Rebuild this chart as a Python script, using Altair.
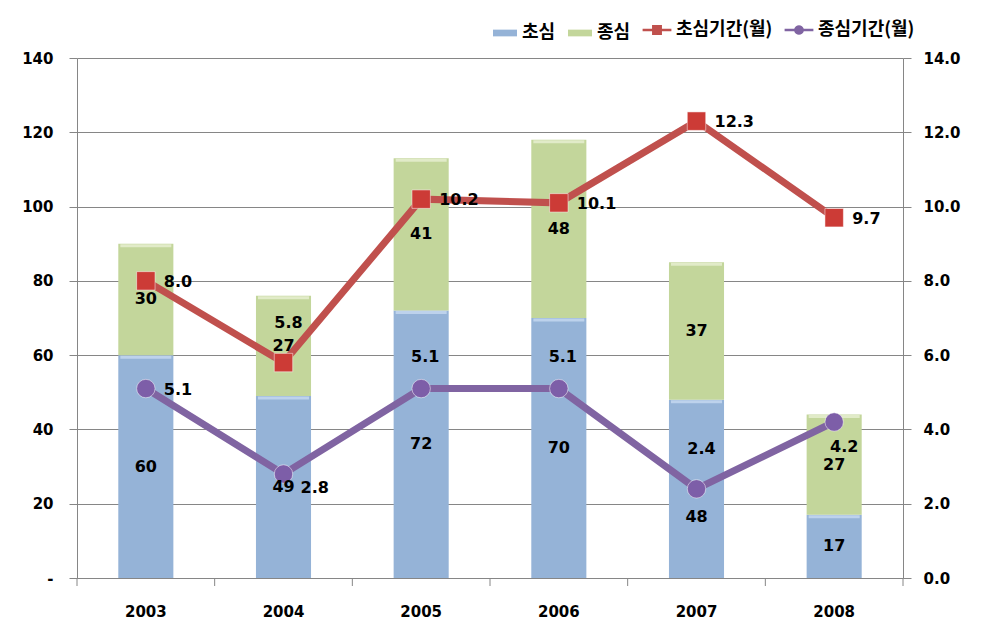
import altair as alt
import pandas as pd

# ---- data ----
years = ["2003", "2004", "2005", "2006", "2007", "2008"]
first_cases = [60, 49, 72, 70, 48, 17]        # 초심
final_cases = [30, 27, 41, 48, 37, 27]        # 종심
first_months = [8.0, 5.8, 10.2, 10.1, 12.3, 9.7]   # 초심기간(월)
final_months = [5.1, 2.8, 5.1, 5.1, 2.4, 4.2]      # 종심기간(월)

bar_series = ["초심", "종심"]
line_series = ["초심기간(월)", "종심기간(월)"]

# label placement names (style only)
first_case_place = ["mid", "mid", "mid", "mid", "low", "mid"]
final_case_place = ["mid", "mid", "mid", "mid", "mid", "mid"]
first_month_place = ["right", "upper-high", "right", "right", "right", "right"]
final_month_place = ["right", "lower-right", "upper", "upper", "upper-high", "lower"]

# ---- tables built from the lists ----
bar_rows = []
for i, y in enumerate(years):
    a, b = first_cases[i], final_cases[i]
    bar_rows.append(dict(year=y, series=bar_series[0], start=0, end=a, mid=a / 2, value=a, place=first_case_place[i]))
    bar_rows.append(dict(year=y, series=bar_series[1], start=a, end=a + b, mid=a + b / 2, value=b, place=final_case_place[i]))
bars_df = pd.DataFrame(bar_rows)

line_rows = []
for i, y in enumerate(years):
    line_rows.append(dict(year=y, series=line_series[0], value=first_months[i], place=first_month_place[i], lbl=f"{first_months[i]:.1f}"))
for i, y in enumerate(years):
    line_rows.append(dict(year=y, series=line_series[1], value=final_months[i], place=final_month_place[i], lbl=f"{final_months[i]:.1f}"))
lines_df = pd.DataFrame(line_rows)

year_df = pd.DataFrame({"year": years})

BLUE = "#95b3d7"
GREEN = "#c3d69b"
BLUE_TOP = "#cfe0f5"
GREEN_TOP = "#eef3dc"
RED = "#c0504d"
PURPLE = "#8064a2"
GRID = "#868686"
NUM_FONT = "DejaVu Sans"
KR_FONT = "Noto Sans CJK KR"

PLOT_W, PLOT_H = 826, 520
STEP = PLOT_W / len(years)

x_enc = alt.X("year:N", sort=years,
              scale=alt.Scale(type="band", paddingInner=0.6, paddingOuter=0.3),
              axis=alt.Axis(title=None, ticks=False, domainColor=GRID,
                            labelFont=NUM_FONT, labelFontWeight="bold",
                            labelFontSize=15, labelColor="black", labelPadding=26,
                            labelAngle=0, grid=False))

left_scale = alt.Scale(domain=[0, 140], nice=False, zero=True)
right_scale = alt.Scale(domain=[0, 14], nice=False, zero=True)

legend_common = dict(title=None, orient="none", direction="horizontal",
                     symbolStrokeWidth=0, labelFont=KR_FONT, labelFontWeight="bold",
                     labelFontSize=18, labelColor="black", padding=0, legendY=-37)

bar_color = alt.Color("series:N", sort=bar_series,
                      scale=alt.Scale(domain=bar_series, range=[BLUE, GREEN]),
                      legend=alt.Legend(legendX=416, symbolType="M-1,-0.28H1V0.28H-1Z",
                                        symbolSize=576, labelOffset=5, columnPadding=12,
                                        **legend_common))

bars = alt.Chart(bars_df).mark_bar().encode(
    x=x_enc,
    y=alt.Y("end:Q", scale=left_scale,
            axis=alt.Axis(title=None, values=list(range(0, 141, 20)),
                          labelExpr="datum.value == 0 ? '-' : datum.label",
                          grid=True, gridColor=GRID, gridWidth=1, domainColor=GRID,
                          tickColor=GRID, tickSize=8, labelPadding=16,
                          labelFont=NUM_FONT, labelFontWeight="bold", labelFontSize=15,
                          labelColor="black")),
    y2="start:Q",
    color=bar_color,
    order=alt.Order("start:Q"),
)

# category-boundary tick marks below the x axis
cat_ticks_left = alt.Chart(year_df).mark_rule(color=GRID, strokeWidth=1, xOffset=-STEP / 2).encode(
    x=x_enc, y=alt.value(PLOT_H), y2=alt.value(PLOT_H + 8))
cat_ticks_right = alt.Chart(year_df).transform_filter(
    alt.datum.year == years[-1]
).mark_rule(color=GRID, strokeWidth=1, xOffset=STEP / 2).encode(
    x=x_enc, y=alt.value(PLOT_H), y2=alt.value(PLOT_H + 8))

# light bevel along the top edge of every segment
bevel = alt.Chart(bars_df).mark_tick(thickness=3, size=51, yOffset=2).encode(
    x=x_enc,
    y=alt.Y("end:Q", scale=left_scale, axis=None),
    color=alt.Color("series:N", sort=bar_series,
                    scale=alt.Scale(domain=bar_series, range=[BLUE_TOP, GREEN_TOP]),
                    legend=None),
)

line_color = alt.Color("series:N", sort=line_series,
                       scale=alt.Scale(domain=line_series, range=[RED, PURPLE]), legend=None)

lines = alt.Chart(lines_df).mark_line(strokeWidth=7).encode(
    x=x_enc,
    y=alt.Y("value:Q", scale=right_scale,
            axis=alt.Axis(title=None, orient="right", values=list(range(0, 15, 2)),
                          format=".1f", grid=False, domainColor=GRID, tickColor=GRID,
                          tickSize=8, labelPadding=12, labelFont=NUM_FONT,
                          labelFontWeight="bold", labelFontSize=15, labelColor="black")),
    color=line_color,
    detail="series:N",
)

# legend carrier for the line series (line + marker symbols)
legend_paths = [
    "M-1.6,-0.13H-0.55V-0.55H0.55V-0.13H1.6V0.13H0.55V0.55H-0.55V0.13H-1.6Z",
    "M-1.6,-0.13H-0.53A0.55,0.55 0 0 1 0.53,-0.13H1.6V0.13H0.53A0.55,0.55 0 0 1 -0.53,0.13H-1.6Z",
]
line_legend = alt.Legend(legendX=571, symbolSize=324, symbolOpacity=1, labelOffset=10,
                         columnPadding=11, **legend_common)
carrier = alt.Chart(lines_df).mark_point(filled=True, opacity=0, size=1).encode(
    x=x_enc,
    y=alt.Y("value:Q", scale=right_scale, axis=None),
    color=alt.Color("series:N", sort=line_series,
                    scale=alt.Scale(domain=line_series, range=[RED, PURPLE]),
                    legend=line_legend),
    shape=alt.Shape("series:N", sort=line_series,
                    scale=alt.Scale(domain=line_series, range=legend_paths),
                    legend=line_legend),
)

points = alt.Chart(lines_df).mark_point(filled=True, size=340, opacity=1,
                                         stroke="white", strokeWidth=0.5).encode(
    x=x_enc,
    y=alt.Y("value:Q", scale=right_scale, axis=None),
    color=alt.Color("series:N", sort=line_series,
                    scale=alt.Scale(domain=line_series, range=["#cc3b36", "#7d5ea8"]),
                    legend=None),
    shape=alt.Shape("series:N", sort=line_series,
                    scale=alt.Scale(domain=line_series, range=["square", "circle"]),
                    legend=None),
)

text_style = dict(font=NUM_FONT, fontWeight="bold", fontSize=16, color="black", baseline="middle")

bar_places = {"mid": 0, "low": 28}
bar_label_layers = []
for name, dy in bar_places.items():
    bar_label_layers.append(
        alt.Chart(bars_df).transform_filter(alt.datum.place == name)
        .mark_text(align="center", dy=dy, **text_style)
        .encode(x=x_enc, y=alt.Y("mid:Q", scale=left_scale, axis=None),
                text=alt.Text("value:Q"))
    )

line_places = {
    "right": ("left", 18, 1),
    "upper": ("center", 4, -32),
    "upper-high": ("center", 5, -40),
    "lower-right": ("left", 17, 14),
    "lower": ("center", 10, 25),
}
line_label_layers = []
for name, (al, dx, dy) in line_places.items():
    line_label_layers.append(
        alt.Chart(lines_df).transform_filter(alt.datum.place == name)
        .mark_text(align=al, dx=dx, dy=dy, **text_style)
        .encode(x=x_enc, y=alt.Y("value:Q", scale=right_scale, axis=None),
                text=alt.Text("lbl:N"))
    )

chart = alt.layer(
    bars, bevel, cat_ticks_left, cat_ticks_right, carrier, lines, points,
    *bar_label_layers, *line_label_layers
).resolve_scale(
    y="independent", color="independent", shape="independent"
).properties(
    width=PLOT_W, height=PLOT_H,
    autosize=alt.AutoSizeParams(type="none"),
    padding={"left": 69, "top": 50, "right": 70, "bottom": 60},
    background="white",
).configure_view(stroke=None)

chart.save("out.html", embed_options={"renderer": "svg", "actions": False})
